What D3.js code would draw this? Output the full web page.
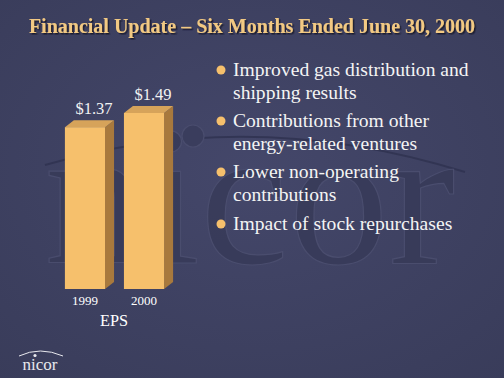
<!DOCTYPE html>
<html>
<head>
<meta charset="utf-8">
<script src="https://cdn.jsdelivr.net/npm/d3@7"></script>
<style>
  body { margin: 0; background: #3d405e; }
  svg { display: block; }
</style>
</head>
<body>
<div id="chart-area"></div>
<script>
var years = ["1999", "2000"];
var eps = [1.37, 1.49];
var valueLabels = ["$1.37", "$1.49"];
var bullets = [
    ["Improved gas distribution and", "shipping results"],
    ["Contributions from other", "energy-related ventures"],
    ["Lower non-operating", "contributions"],
    ["Impact of stock repurchases"]
];
var title = "Financial Update \u2013 Six Months Ended June 30, 2000";

var width = 504, height = 378;
var depth = { x: 9, y: 7 };

var svg = d3.select("#chart-area").append("svg")
    .attr("width", width)
    .attr("height", height);

var defs = svg.append("defs");
var grad = defs.append("radialGradient").attr("id", "bg")
    .attr("cx", "50%").attr("cy", "45%").attr("r", "75%");
grad.append("stop").attr("offset", "0%").attr("stop-color", "#44476a");
grad.append("stop").attr("offset", "100%").attr("stop-color", "#393c5a");

var shadow = defs.append("filter").attr("id", "shadow");
shadow.append("feDropShadow")
    .attr("dx", 1.5).attr("dy", 1.5)
    .attr("stdDeviation", 0.6)
    .attr("flood-color", "#15162a")
    .attr("flood-opacity", 0.9);

svg.append("rect")
    .attr("width", width)
    .attr("height", height)
    .attr("fill", "url(#bg)");

// faint watermark logo
var mark = svg.append("g").style("opacity", 0.8);
mark.append("path")
    .attr("d", "M45,165 Q250,105 465,172")
    .style("fill", "none")
    .style("stroke", "#2f3250")
    .style("stroke-width", 2);
mark.append("circle")
    .attr("cx", 193).attr("cy", 136).attr("r", 11)
    .style("fill", "#393c5b")
    .style("stroke", "#4c4f70")
    .style("stroke-width", 1.2);
mark.append("text")
    .attr("x", 250)
    .attr("y", 263)
    .attr("text-anchor", "middle")
    .style("font-family", "Liberation Serif")
    .style("font-size", "200px")
    .style("fill", "#373a58")
    .style("stroke", "#4d5071")
    .style("stroke-width", 1.2)
    .text("nicor");

// title
svg.append("text")
    .attr("x", 252)
    .attr("y", 33)
    .attr("text-anchor", "middle")
    .attr("filter", "url(#shadow)")
    .style("font-family", "Liberation Serif")
    .style("font-weight", "bold")
    .style("font-size", "20px")
    .style("fill", "#f2c983")
    .text(title);

// bars
var xScale = d3.scaleBand()
    .domain(years)
    .range([59, 170])
    .paddingInner(0.32)
    .paddingOuter(0.1);

var yScale = d3.scaleLinear()
    .domain([0, 1.49])
    .range([289, 113]);

var bars = svg.selectAll("g.bar").data(eps).enter().append("g")
    .attr("class", "bar");

bars.append("path")
    .attr("d", function(d, i) {
        var x1 = xScale(years[i]) + xScale.bandwidth();
        var y0 = yScale(0), y1 = yScale(d);
        return "M" + x1 + "," + y1 + "L" + (x1 + depth.x) + "," + (y1 - depth.y) +
            "L" + (x1 + depth.x) + "," + (y0 - depth.y) + "L" + x1 + "," + y0 + "Z";
    })
    .style("fill", "#a8793d");

bars.append("path")
    .attr("d", function(d, i) {
        var x0 = xScale(years[i]), x1 = x0 + xScale.bandwidth();
        var y1 = yScale(d);
        return "M" + x0 + "," + y1 + "L" + (x0 + depth.x) + "," + (y1 - depth.y) +
            "L" + (x1 + depth.x) + "," + (y1 - depth.y) + "L" + x1 + "," + y1 + "Z";
    })
    .style("fill", "#d6a35a");

bars.append("rect")
    .attr("x", function(d, i) { return xScale(years[i]); })
    .attr("y", function(d) { return yScale(d); })
    .attr("width", xScale.bandwidth())
    .attr("height", function(d) { return yScale(0) - yScale(d); })
    .style("fill", "#f6c06c");

bars.append("text")
    .attr("x", function(d, i) { return xScale(years[i]) + xScale.bandwidth() / 2 + 9; })
    .attr("y", function(d) { return yScale(d) - 13; })
    .attr("text-anchor", "middle")
    .style("font-family", "Liberation Serif")
    .style("font-size", "16.5px")
    .style("fill", "#f2f2f2")
    .text(function(d, i) { return valueLabels[i]; });

bars.append("text")
    .attr("x", function(d, i) { return xScale(years[i]) + xScale.bandwidth() / 2; })
    .attr("y", 305)
    .attr("text-anchor", "middle")
    .style("font-family", "Liberation Serif")
    .style("font-size", "13px")
    .style("fill", "#ffffff")
    .text(function(d, i) { return years[i]; });

svg.append("text")
    .attr("x", 114)
    .attr("y", 326)
    .attr("text-anchor", "middle")
    .style("font-family", "Liberation Serif")
    .style("font-size", "16.3px")
    .style("fill", "#ffffff")
    .text("EPS");

// bullet list
var lineY = [76, 127, 178, 230];
var items = svg.selectAll("g.item").data(bullets).enter().append("g")
    .attr("class", "item");

items.append("circle")
    .attr("cx", 221)
    .attr("cy", function(d, i) { return lineY[i] - 6; })
    .attr("r", 4.5)
    .style("fill", "#f6c06c");

items.each(function(lines, i) {
    d3.select(this).selectAll("text").data(lines).enter().append("text")
        .attr("x", 233)
        .attr("y", function(l, j) { return lineY[i] + j * 22.5; })
        .style("font-family", "Liberation Serif")
        .style("font-size", "19.6px")
        .style("fill", "#f4f4f4")
        .text(function(l) { return l; });
});

// logo
var logo = svg.append("g");
logo.append("path")
    .attr("d", "M19,356 Q40,346 63,356")
    .style("fill", "none")
    .style("stroke", "#e8e8ee")
    .style("stroke-width", 1);
logo.append("circle")
    .attr("cx", 35).attr("cy", 355.5).attr("r", 1.6)
    .style("fill", "#e8e8ee");
logo.append("text")
    .attr("x", 40)
    .attr("y", 370)
    .attr("text-anchor", "middle")
    .style("font-family", "Liberation Serif")
    .style("font-size", "17px")
    .style("fill", "#e8e8ee")
    .text("nicor");
</script>
</body>
</html>
